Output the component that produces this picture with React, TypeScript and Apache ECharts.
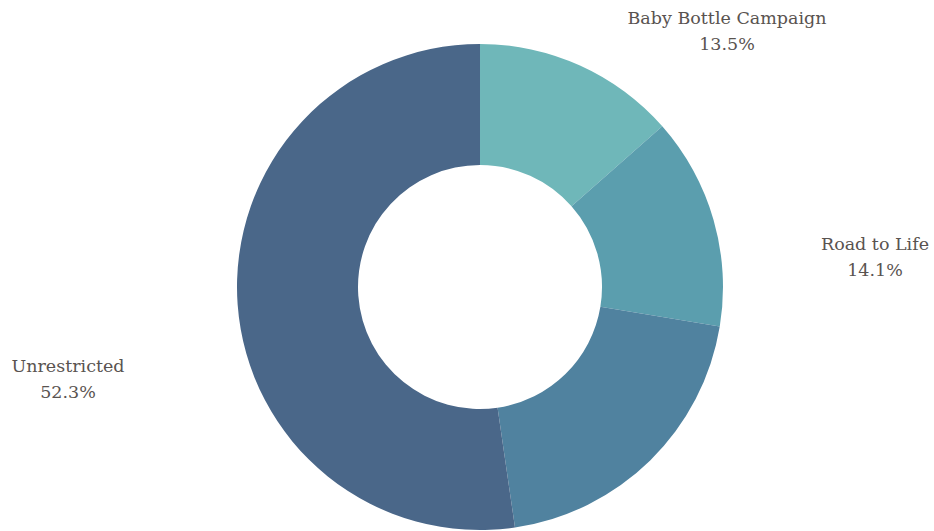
import React, { useEffect, useRef } from "react";
import * as echarts from "echarts";

const categories = ["Baby Bottle Campaign", "Road to Life", "Other", "Unrestricted"];
const values = [13.5, 14.1, 20.1, 52.3];
const colors = ["#6FB7B9", "#5B9EAE", "#50829F", "#4A6789"];
const showLabel = [true, true, false, true];
// label anchor positions (pixels) for the outside labels
const labelAnchors: [number, number][] = [
  [727, 31],
  [875, 257],
  [0, 0],
  [68, 379],
];

export default function App() {
  const ref = useRef<HTMLDivElement>(null);
  useEffect(() => {
    if (!ref.current) return;
    const chart = echarts.init(ref.current, undefined, { renderer: "svg" });
    chart.setOption({
      animation: false,
      backgroundColor: "#ffffff",
      series: [
        {
          type: "pie",
          center: [480, 287],
          radius: [122, 243],
          startAngle: 90,
          clockwise: true,
          avoidLabelOverlap: false,
          itemStyle: { borderWidth: 0 },
          label: {
            show: true,
            position: "outside",
            formatter: (p: any) => `${p.name}\n${p.value.toFixed(1)}%`,
            fontFamily: "DejaVu Serif",
            fontSize: 17.5,
            lineHeight: 26,
            color: "#595350",
            align: "center",
          },
          labelLine: { show: false },
          labelLayout: (params: any) => {
            const a = labelAnchors[params.dataIndex];
            return { x: a[0], y: a[1], align: "center", verticalAlign: "middle" };
          },
          data: categories.map((c, i) => ({
            name: c,
            value: values[i],
            itemStyle: { color: colors[i] },
            label: { show: showLabel[i] },
          })),
        },
      ],
    });
    return () => chart.dispose();
  }, []);
  return (
    <div
      ref={ref}
      style={{ position: "fixed", left: 0, top: 0, width: 934, height: 531 }}
    />
  );
}
